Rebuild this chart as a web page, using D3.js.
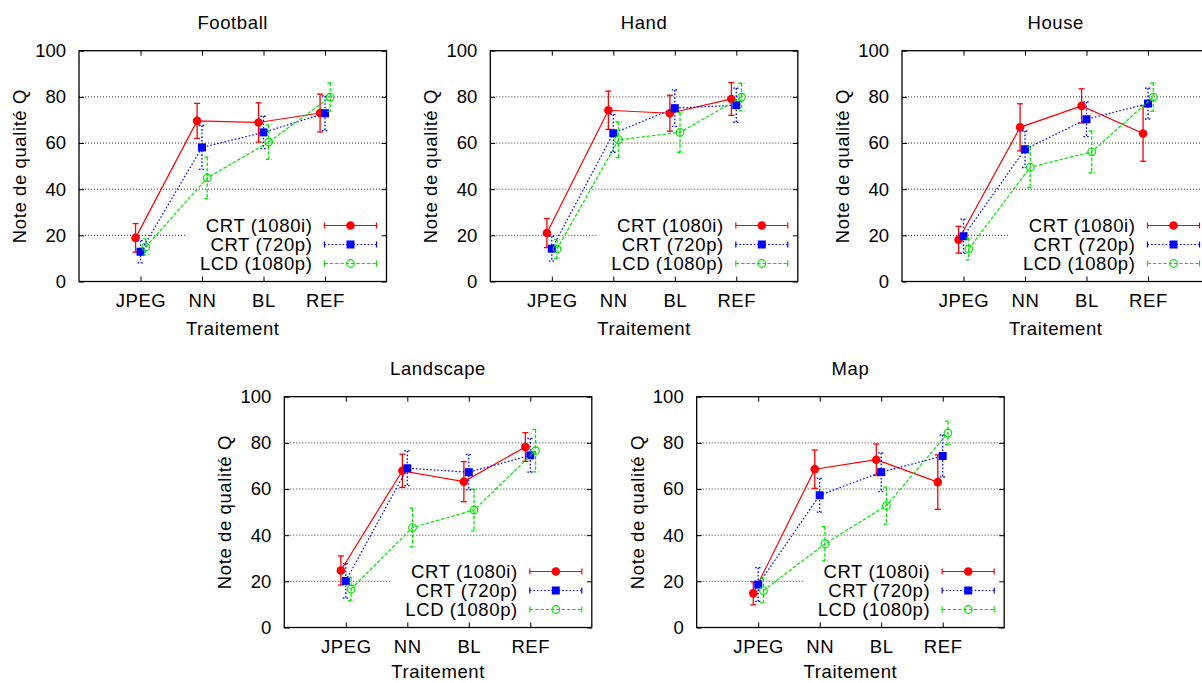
<!DOCTYPE html>
<html>
<head>
<meta charset="utf-8">
<script src="https://cdn.jsdelivr.net/npm/d3@7"></script>
<style>
  html, body { margin: 0; padding: 0; background: #fff; }
  svg { display: block; }
  text { font-family: "Liberation Sans", Arial, Helvetica, sans-serif; fill: #000; }
</style>
</head>
<body>
<svg id="chart" width="1202" height="683"></svg>
<script>
// ---------- data ----------
const categories = ["JPEG", "NN", "BL", "REF"];
const seriesNames = ["CRT (1080i)", "CRT (720p)", "LCD (1080p)"];
const panelTitles = ["Football", "Hand", "House", "Landscape", "Map"];
const yTicks = [0, 20, 40, 60, 80, 100];
const yLabel = "Note de qualité Q";
const xLabel = "Traitement";

// means per series: [CRT 1080i, CRT 720p, LCD 1080p], per category
const footballMean = [[18.9, 69.6, 68.9, 73.0], [12.9, 58.1, 64.6, 72.9], [15.0, 44.9, 60.4, 79.9]];
const footballErr  = [[6.2, 7.6, 8.5, 8.2], [4.8, 9.5, 7.0, 7.5], [3.5, 9.0, 7.5, 6.2]];

const handMean = [[21.0, 74.2, 72.9, 79.1], [14.2, 64.2, 75.1, 76.4], [14.1, 61.4, 64.6, 79.9]];
const handErr  = [[6.3, 8.3, 7.8, 7.1], [5.4, 8.2, 7.9, 7.4], [4.1, 7.7, 8.6, 6.0]];

const houseMean = [[18.1, 66.8, 76.1, 64.1], [19.6, 57.3, 70.3, 77.1], [14.1, 49.5, 56.2, 79.9]];
const houseErr  = [[5.8, 10.2, 7.4, 12.0], [7.4, 7.9, 7.5, 6.7], [4.7, 8.8, 9.0, 6.2]];

const landscapeMean = [[24.7, 67.9, 63.2, 78.2], [20.2, 69.0, 67.3, 74.6], [16.7, 43.3, 50.9, 76.6]];
const landscapeErr  = [[6.3, 7.2, 8.7, 6.2], [7.5, 7.5, 7.7, 7.3], [5.0, 8.4, 9.0, 9.2]];

const mapMean = [[14.8, 68.6, 72.7, 63.0], [18.6, 57.3, 67.3, 74.3], [16.0, 36.3, 52.8, 84.3]];
const mapErr  = [[5.0, 8.3, 6.8, 11.8], [7.3, 7.3, 8.4, 9.1], [5.2, 7.4, 8.0, 5.1]];

const panelMeans = [footballMean, handMean, houseMean, landscapeMean, mapMean];
const panelErrs  = [footballErr, handErr, houseErr, landscapeErr, mapErr];

// ---------- styles ----------
const colors = ["#ff0000", "#0000ff", "#00e600"];
const dashes = [null, "1.6,2", "3.5,1.8"];
const xOffsets = [-0.08, 0, 0.085];
const FONT = 18.5;
const LS = "0.6px";

// panel placement (plot area top-left)
const panelPos = [
  {x: 79, y: 50.7}, {x: 490.3, y: 50.7}, {x: 902, y: 50.7},
  {x: 284.3, y: 396.7}, {x: 696.7, y: 396.7}
];
const W = 307.5, H = 230.8;

const svg = d3.select("#chart");

panelTitles.forEach((title, p) => {
  const pos = panelPos[p];
  const g = svg.append("g").attr("transform", `translate(${pos.x},${pos.y})`);
  const x = d3.scaleLinear().domain([0, 5]).range([0, W]);
  const y = d3.scaleLinear().domain([0, 100]).range([H, 0]);
  const legendLeft = 107;

  // grid lines
  yTicks.filter(v => v > 0 && v < 100).forEach(v => {
    g.append("line")
      .attr("x1", 0).attr("x2", W)
      .attr("y1", y(v)).attr("y2", y(v))
      .attr("stroke", "#333").attr("stroke-width", 1)
      .attr("stroke-dasharray", "1,2");
  });

  // legend background (opaque)
  g.append("rect")
    .attr("x", legendLeft).attr("y", H - 66)
    .attr("width", W - legendLeft - 1).attr("height", 65)
    .attr("fill", "#fff");

  // data
  const means = panelMeans[p], errs = panelErrs[p];
  means.forEach((vals, s) => {
    const pts = vals.map((v, i) => ({xv: i + 1 + xOffsets[s], v, e: errs[s][i]}));
    const line = d3.line().x(d => x(d.xv)).y(d => y(d.v));
    const sg = g.append("g");
    sg.append("path").attr("d", line(pts))
      .attr("fill", "none").attr("stroke", colors[s]).attr("stroke-width", 1.2)
      .attr("stroke-dasharray", dashes[s]);
    pts.forEach(d => {
      const cx = x(d.xv);
      sg.append("line").attr("x1", cx).attr("x2", cx)
        .attr("y1", y(d.v + d.e)).attr("y2", y(d.v - d.e))
        .attr("stroke", colors[s]).attr("stroke-width", 1.3)
        .attr("stroke-dasharray", dashes[s]);
      [d.v + d.e, d.v - d.e].forEach(c => {
        sg.append("line").attr("x1", cx - 3).attr("x2", cx + 3)
          .attr("y1", y(c)).attr("y2", y(c))
          .attr("stroke", colors[s]).attr("stroke-width", 1.3)
          .attr("stroke-dasharray", dashes[s]);
      });
    });
    pts.forEach(d => drawMarker(sg, s, x(d.xv), y(d.v)));
  });

  // legend entries
  seriesNames.forEach((name, s) => {
    const ly = H - 56 + s * 19;
    g.append("text").attr("x", W - 74).attr("y", ly).attr("dy", "0.36em")
      .attr("text-anchor", "end").attr("font-size", FONT)
      .style("letter-spacing", LS).text(name);
    const x1 = W - 62, x2 = W - 10;
    g.append("line").attr("x1", x1).attr("x2", x2).attr("y1", ly).attr("y2", ly)
      .attr("stroke", colors[s]).attr("stroke-width", 1.2).attr("stroke-dasharray", dashes[s]);
    [x1, x2].forEach(cx => g.append("line").attr("x1", cx).attr("x2", cx)
      .attr("y1", ly - 3).attr("y2", ly + 3).attr("stroke", colors[s]).attr("stroke-width", 1.2));
    drawMarker(g, s, W - 36, ly);
  });

  // axes
  const axL = d3.axisLeft(y).tickValues(yTicks).tickSize(-5).tickSizeOuter(0).tickPadding(13);
  const axR = d3.axisRight(y).tickValues(yTicks).tickSize(-5).tickSizeOuter(0).tickFormat("");
  const axB = d3.axisBottom(x).tickValues([1, 2, 3, 4]).tickFormat(i => categories[i - 1])
    .tickSize(-5).tickSizeOuter(0).tickPadding(12.5);
  const axT = d3.axisTop(x).tickValues([1, 2, 3, 4]).tickSize(-5).tickSizeOuter(0).tickFormat("");
  [[axL, 0, 0], [axR, W, 0], [axB, 0, H], [axT, 0, 0]].forEach(([ax, tx, ty], k) => {
    const a = g.append("g").attr("transform", `translate(${tx},${ty})`).call(ax);
    a.select(".domain").remove();
    a.selectAll(".tick line").attr("stroke", "#000").attr("stroke-width", 1);
    a.selectAll("text").attr("font-size", FONT).attr("font-family", null).attr("fill", "#000");
    if (k === 2) a.selectAll("text").style("letter-spacing", LS);
  });

  // border
  g.append("rect").attr("x", 0).attr("y", 0).attr("width", W).attr("height", H)
    .attr("fill", "none").attr("stroke", "#000").attr("stroke-width", 1.3);

  // labels
  g.append("text").attr("x", W / 2).attr("y", -21.7).attr("text-anchor", "middle")
    .attr("font-size", FONT).style("letter-spacing", LS).text(title);
  const xlY = Math.min(H + 53.5, 683 - pos.y - 5);
  g.append("text").attr("x", W / 2).attr("y", xlY).attr("text-anchor", "middle")
    .attr("font-size", FONT).style("letter-spacing", LS).text(xLabel);
  g.append("text").attr("transform", `translate(-53,${H / 2}) rotate(-90)`)
    .attr("text-anchor", "middle").attr("font-size", FONT)
    .style("letter-spacing", LS).text(yLabel);
});

function drawMarker(g, s, cx, cy) {
  if (s === 0) {
    g.append("circle").attr("cx", cx).attr("cy", cy).attr("r", 4.3).attr("fill", colors[s]);
  } else if (s === 1) {
    g.append("rect").attr("x", cx - 4).attr("y", cy - 4).attr("width", 8).attr("height", 8)
      .attr("fill", colors[s]);
  } else {
    g.append("circle").attr("cx", cx).attr("cy", cy).attr("r", 3.8)
      .attr("fill", "none").attr("stroke", colors[s]).attr("stroke-width", 1.2);
  }
}
</script>
</body>
</html>
